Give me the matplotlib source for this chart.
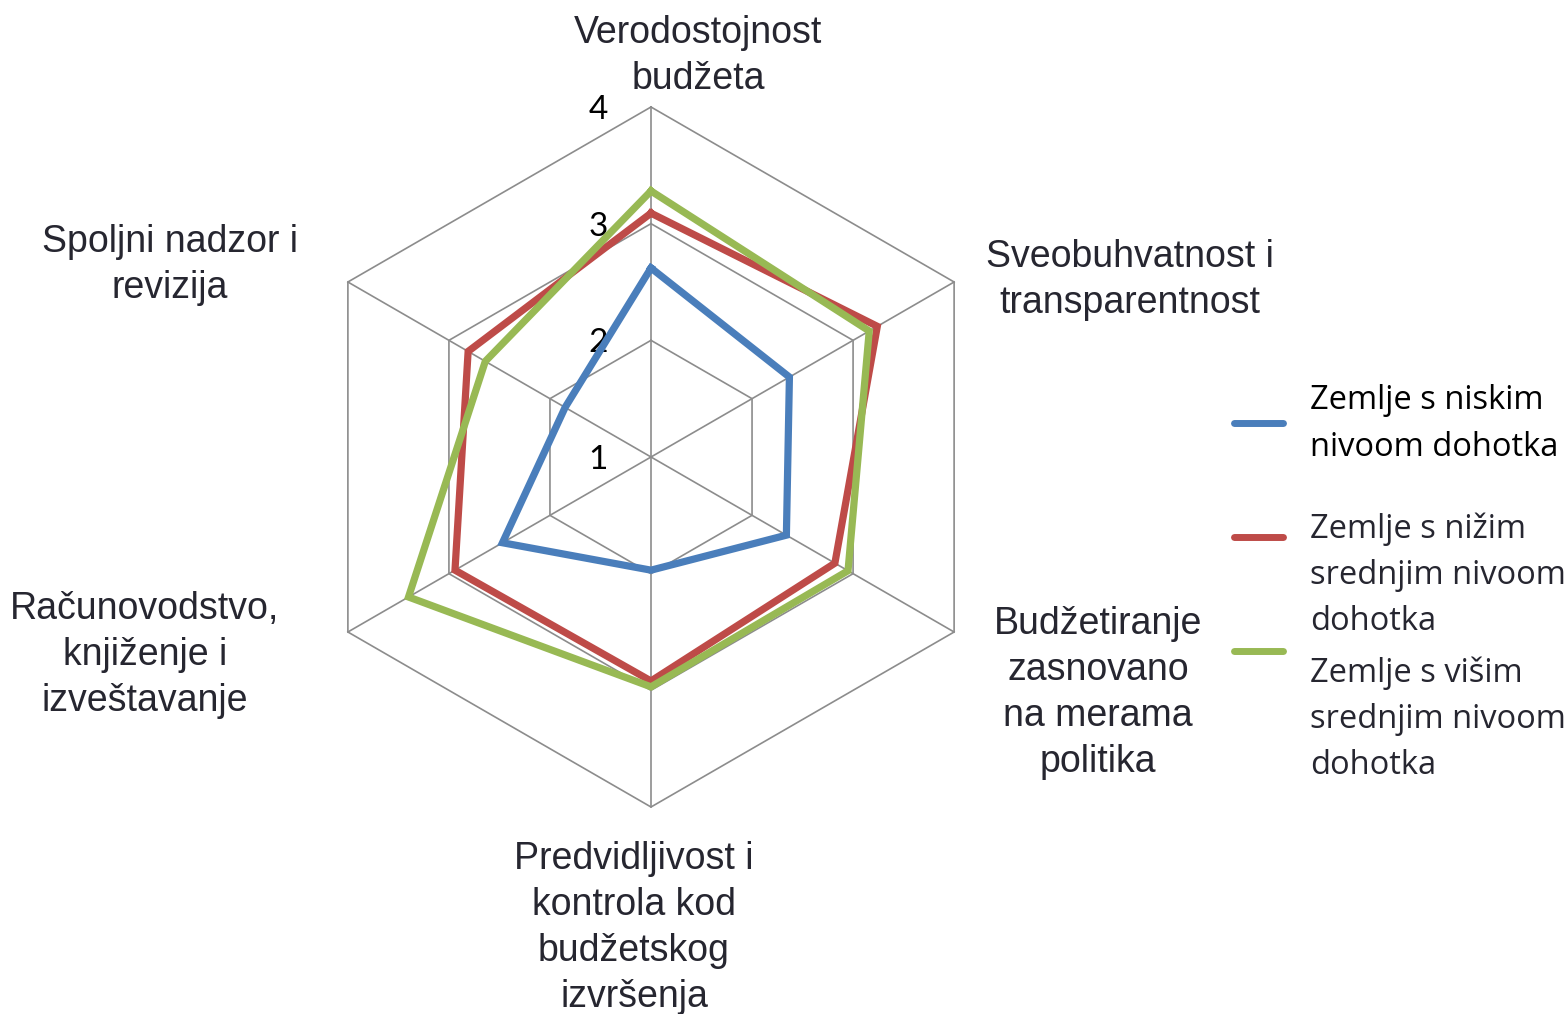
import numpy as np
import matplotlib.pyplot as plt
from matplotlib.lines import Line2D
from matplotlib.transforms import offset_copy

# ── Data ─────────────────────────────────────────────────────────────────────
categories = [
    "Verodostojnost\nbudžeta",
    "Sveobuhvatnost i\ntransparentnost",
    "Budžetiranje\nzasnovano\nna merama\npolitika",
    "Predvidljivost i\nkontrola kod\nbudžetskog\nizvršenja",
    "Računovodstvo,\nknjiženje i\nizveštavanje",
    "Spoljni nadzor i\nrevizija",
]
series_names = [
    "Zemlje s niskim\nnivoom dohotka",
    "Zemlje s nižim\nsrednjim nivoom\ndohotka",
    "Zemlje s višim\nsrednjim nivoom\ndohotka",
]
low_income = [2.62, 2.37, 2.34, 1.97, 2.47, 1.85]
lower_middle = [3.09, 3.24, 2.82, 2.92, 2.94, 2.81]
upper_middle = [3.28, 3.16, 2.95, 2.97, 3.40, 2.64]
r_ticks = [1, 2, 3, 4]

COLORS = ["#4A7EBB", "#BE4B48", "#98B954"]
GRID = "#8C8C8C"
TEXT = "#262630"

W, H = 1568, 1014
fig = plt.figure(figsize=(W / 100, H / 100), dpi=100)

# centre of the web at (651, 457) px, radius 350 px
cx, cy, rad = 651, 457, 350
ax = fig.add_axes([(cx - rad) / W, (H - cy - rad) / H, 2 * rad / W, 2 * rad / H],
                  projection="polar")
ax.set_theta_offset(np.pi / 2)
ax.set_theta_direction(-1)
ax.set_ylim(r_ticks[0], r_ticks[-1])
ax.axis("off")

n = len(categories)
theta = np.linspace(0, 2 * np.pi, n, endpoint=False)
theta_c = np.append(theta, theta[0])

# hexagonal web
for r in r_ticks[1:]:
    ax.plot(theta_c, [r] * (n + 1), color=GRID, lw=1.2, clip_on=False, zorder=1)
for t in theta:
    ax.plot([t, t], [r_ticks[0], r_ticks[-1]], color=GRID, lw=1.2,
            clip_on=False, zorder=1)

# radial labels, shifted left of the top spoke
lbl_tr = offset_copy(ax.transData, fig=fig, x=-53, y=-3, units="dots")
for r in r_ticks:
    ax.text(0, r, str(r), transform=lbl_tr, ha="center", va="center",
            fontsize=24, family="Lato", color="black", zorder=2)

# series
for vals, c in zip([low_income, lower_middle, upper_middle], COLORS):
    v = np.append(vals, vals[0])
    ax.plot(theta_c, v, color=c, lw=5.2, solid_joinstyle="miter",
            clip_on=False, zorder=3)

# category labels (px positions of each label centre)
label_pos = [(698, 56), (1130, 280), (1098, 693), (634, 928), (145, 655), (170, 265)]
for txt, (x, y) in zip(categories, label_pos):
    fig.text(x / W, 1 - y / H, txt, ha="center", va="center",
             multialignment="center", fontsize=27, family="Liberation Sans",
             color=TEXT, linespacing=1.36)

# legend, drawn by hand to keep the Excel layout
leg_line_y = [423, 537, 651]
leg_text_y = [424, 575, 719]
text_cols = ["black", TEXT, TEXT]
for name, c, ly, ty, tc in zip(series_names, COLORS, leg_line_y, leg_text_y, text_cols):
    fig.add_artist(Line2D([1234 / W, 1283 / W], [1 - ly / H, 1 - ly / H],
                          color=c, lw=5, solid_capstyle="round"))
    fig.text(1310 / W, 1 - ty / H, name, ha="left", va="center",
             fontsize=23.5, family="Open Sans", color=tc, linespacing=1.53)

plt.savefig("out.png", dpi=100)
